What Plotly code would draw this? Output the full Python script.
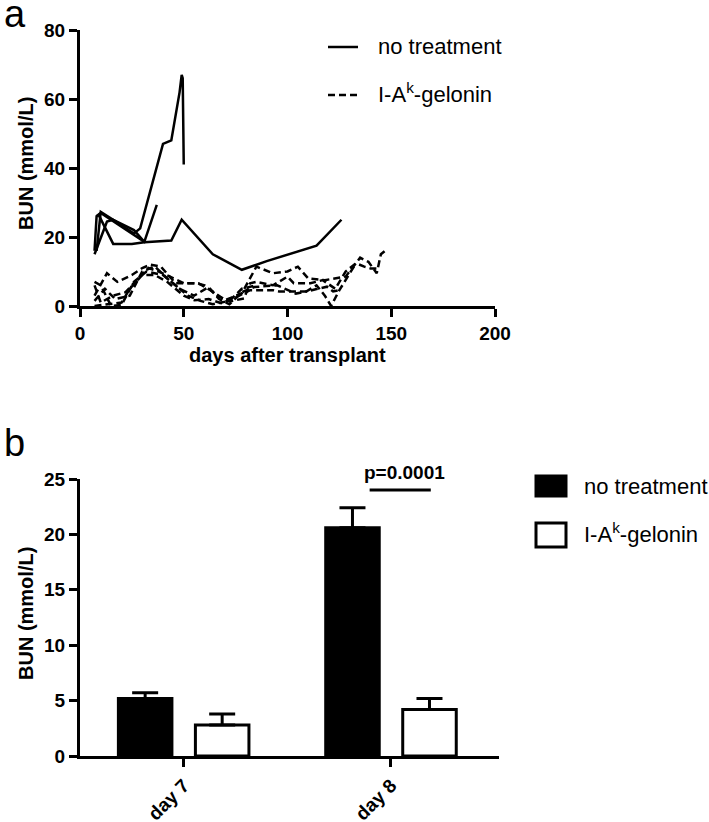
import plotly.graph_objects as go

W, H = 709, 822

# ---------------- Panel a data ----------------
nt_a_x = [7, 8, 9, 16, 25, 31, 44, 49, 64, 78, 90, 114, 126]
nt_a_y = [16, 26, 26.4, 18, 18, 18.5, 19, 25, 15, 10.5, 13, 17.5, 25]
nt_b_x = [8, 10, 16, 26, 29, 40, 44, 48, 49, 49.5, 50]
nt_b_y = [16, 27.3, 25, 21, 22.5, 47, 48, 62, 67, 66, 41]
nt_c_x = [8, 10, 20, 31, 37]
nt_c_y = [26, 27, 23, 18.6, 29.3]
nt_d_x = [7, 13, 16, 26, 31]
nt_d_y = [15, 24.5, 25, 22, 18.6]

g1_x = [7, 13, 18, 25, 30, 34, 39, 46, 57, 64, 70, 78, 85, 93, 100, 105, 110, 118, 128, 135, 139, 143, 145, 147]
g1_y = [3, 9.5, 7, 9, 11, 12, 11.4, 6.6, 6.6, 4.2, 1.7, 3.7, 11.4, 9.5, 10, 11.4, 8, 7.5, 8.5, 14, 12.8, 9.5, 15, 16]
g2_x = [7, 10, 16, 22, 28, 33, 38, 45, 50, 56, 60, 66, 72, 79, 82, 85, 93, 100, 103, 111, 117, 123, 128, 133, 137, 140, 144]
g2_y = [6, 1, 3, 4, 8, 11, 10, 8, 6.6, 6.6, 6, 3, 1.3, 2.2, 6.6, 7, 6, 8.5, 6.6, 6.6, 7.5, 5, 10, 12.4, 11.4, 10.9, 10.9]
g3_x = [7, 14, 20, 24, 30, 36, 42, 50, 55, 62, 68, 75, 82, 93, 96, 109, 112, 119, 122, 125]
g3_y = [0, 0.5, 1, 5, 9, 9, 7, 3, 1.7, 2, 0.8, 2.5, 4.6, 4.6, 4.2, 4.2, 4.6, 5.6, 4.2, 4.6]
g4_x = [7, 12, 17, 24, 30, 36, 42, 48, 55, 62, 67, 72, 78, 84, 95, 104, 109, 114, 118, 121, 125, 133]
g4_y = [1.5, 5, 2, 3, 10, 11.5, 8, 5, 3, 5.5, 2, 0.5, 4, 5.5, 6, 3.6, 4.2, 6, 3, 0, 4.6, 12.4]
g5_x = [7, 10, 15, 20, 26, 32, 40, 47, 52, 58, 64, 72, 78, 85]
g5_y = [7, 6, 0, 0.3, 7, 10, 9, 5.5, 3, 1.5, 0.5, 1.5, 5, 6]

a_xticks = [0, 50, 100, 150, 200]
a_yticks = [0, 20, 40, 60, 80]

# ---------------- Panel b data ----------------
days = ["day 7", "day 8"]
bun_nt = [5.2, 20.6]
err_nt = [0.5, 1.8]
bun_gel = [2.8, 4.2]
err_gel = [1.0, 1.0]
b_yticks = [0, 5, 10, 15, 20, 25]
p_text = "p=0.0001"
p_level = 24

FONT = "Liberation Sans, Arial, sans-serif"
GEL_LABEL = "I-A<sup>k</sup>-gelonin"


def px(xp):
    return xp / W


def py(yp):
    return 1 - yp / H


fig = go.Figure()

for xs, ys in [(nt_a_x, nt_a_y), (nt_b_x, nt_b_y), (nt_c_x, nt_c_y), (nt_d_x, nt_d_y)]:
    fig.add_trace(go.Scatter(x=xs, y=ys, mode="lines", xaxis="x", yaxis="y",
                             line=dict(color="black", width=2.5), showlegend=False))
for xs, ys in [(g1_x, g1_y), (g2_x, g2_y), (g3_x, g3_y), (g4_x, g4_y), (g5_x, g5_y)]:
    fig.add_trace(go.Scatter(x=xs, y=ys, mode="lines", xaxis="x", yaxis="y",
                             line=dict(color="black", width=2.5, dash="7px,4px"), showlegend=False))

fig.add_trace(go.Bar(x=days, y=bun_nt, xaxis="x2", yaxis="y2", name="no treatment",
                     marker=dict(color="black", line=dict(color="black", width=3)),
                     error_y=dict(type="data", symmetric=False, array=err_nt, arrayminus=[0, 0],
                                  color="black", thickness=3, width=13),
                     showlegend=False))
fig.add_trace(go.Bar(x=days, y=bun_gel, xaxis="x2", yaxis="y2", name="I-Ak-gelonin",
                     marker=dict(color="white", line=dict(color="black", width=3)),
                     error_y=dict(type="data", symmetric=False, array=err_gel, arrayminus=[0, 0],
                                  color="black", thickness=3, width=13),
                     showlegend=False))

axis_common = dict(showline=True, linecolor="black", linewidth=3, showgrid=False, zeroline=False,
                   ticks="outside", tickcolor="black", tickwidth=2.5, ticklen=8, automargin=False)
tickfont = dict(family=FONT, size=19, color="black", weight="bold")

fig.update_layout(
    width=W, height=H,
    margin=dict(l=0, r=0, t=0, b=0, autoexpand=False),
    paper_bgcolor="white", plot_bgcolor="white",
    barmode="group", bargap=0.257, bargroupgap=0.305,
    xaxis=dict(domain=[px(80), px(495)], range=[0, 200], tickvals=a_xticks,
               tickfont=tickfont, anchor="y", **axis_common),
    yaxis=dict(domain=[py(306), py(30)], range=[0, 80], tickvals=a_yticks,
               tickfont=tickfont, anchor="x", **axis_common),
    xaxis2=dict(domain=[px(80), px(499)], type="category", range=[-0.5, 1.521],
                tickangle=-45, tickfont=tickfont, anchor="y2", **axis_common),
    yaxis2=dict(domain=[py(756), py(479)], range=[0, 25], tickvals=b_yticks,
                tickfont=tickfont, anchor="x2", **axis_common),
)

shapes = []
annotations = []

# panel labels
annotations.append(dict(text="a", x=px(2), y=py(14), xref="paper", yref="paper", showarrow=False,
                        xanchor="left", yanchor="middle", font=dict(family=FONT, size=38, color="black")))
annotations.append(dict(text="b", x=px(2), y=py(443), xref="paper", yref="paper", showarrow=False,
                        xanchor="left", yanchor="middle", font=dict(family=FONT, size=38, color="black")))

# axis titles
title_font = dict(family=FONT, size=20, color="black", weight="bold")
annotations.append(dict(text="BUN (mmol/L)", x=px(26), y=py(164), xref="paper", yref="paper",
                        showarrow=False, textangle=-90, xanchor="center", yanchor="middle",
                        font=title_font))
annotations.append(dict(text="days after transplant", x=px(287), y=py(355), xref="paper", yref="paper",
                        showarrow=False, xanchor="center", yanchor="middle", font=title_font))
annotations.append(dict(text="BUN (mmol/L)", x=px(26), y=py(614), xref="paper", yref="paper",
                        showarrow=False, textangle=-90, xanchor="center", yanchor="middle",
                        font=title_font))

legend_font = dict(family=FONT, size=22, color="black")

# legend panel a
shapes.append(dict(type="line", xref="paper", yref="paper", x0=px(328), x1=px(358), y0=py(47), y1=py(47),
                   line=dict(color="black", width=2.5)))
shapes.append(dict(type="line", xref="paper", yref="paper", x0=px(328), x1=px(358), y0=py(95), y1=py(95),
                   line=dict(color="black", width=2.5, dash="7px,4px")))
annotations.append(dict(text="no treatment", x=px(376), y=py(47), xref="paper", yref="paper",
                        showarrow=False, xanchor="left", yanchor="middle", font=legend_font))
annotations.append(dict(text=GEL_LABEL, x=px(376), y=py(93), xref="paper", yref="paper",
                        showarrow=False, xanchor="left", yanchor="middle", font=legend_font))

# legend panel b
shapes.append(dict(type="rect", xref="paper", yref="paper", x0=px(536), x1=px(566), y0=py(496), y1=py(476),
                   fillcolor="black", line=dict(color="black", width=3)))
shapes.append(dict(type="rect", xref="paper", yref="paper", x0=px(536), x1=px(566), y0=py(547), y1=py(523),
                   fillcolor="white", line=dict(color="black", width=3)))
annotations.append(dict(text="no treatment", x=px(582), y=py(486), xref="paper", yref="paper",
                        showarrow=False, xanchor="left", yanchor="middle", font=legend_font))
annotations.append(dict(text=GEL_LABEL, x=px(582), y=py(533), xref="paper", yref="paper",
                        showarrow=False, xanchor="left", yanchor="middle", font=legend_font))

# significance bracket (x in category index units of panel b)
shapes.append(dict(type="line", xref="x2", yref="y2", x0=1 - 0.103, x1=1 + 0.192, y0=p_level, y1=p_level,
                   line=dict(color="black", width=3)))
annotations.append(dict(text=p_text, x=1.067, y=p_level, xref="x2", yref="y2", showarrow=False,
                        xanchor="center", yanchor="bottom", yshift=5,
                        font=dict(family=FONT, size=19, color="black", weight="bold")))

fig.update_layout(shapes=shapes, annotations=annotations)

fig.write_html("out.html", config={"displayModeBar": False},
               post_script="document.body.style.margin='0';document.body.style.padding='0';")
